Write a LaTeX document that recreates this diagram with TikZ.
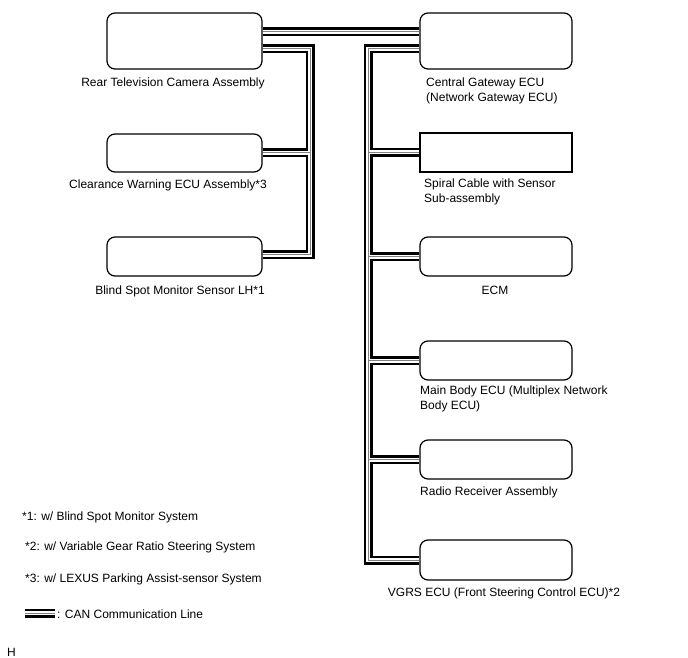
\documentclass[tikz,border=0pt]{standalone}
\usepackage{fontspec}
\setmainfont{Liberation Sans}
\usepackage{tikz}
\usetikzlibrary{positioning,backgrounds}

\begin{document}
\begin{tikzpicture}[x=1pt, y=-1pt,
    ecubox/.style={draw, line width=1.2pt, fill=white, rounded corners=8pt, inner sep=0pt},
    plainbox/.style={ecubox, sharp corners},
    lbl/.style={font=\fontsize{12}{15}\selectfont, inner sep=0pt, align=left}]
        \useasboundingbox (0,0) rectangle (688,658);

        % Left column (units on the left bus)
        \node[ecubox, minimum width=155pt, minimum height=56pt] (rearcam) at (184.5, 41) {};
        \node[ecubox, minimum width=155pt, minimum height=38pt] (clearance) at (184.5, 153) {};
        \node[ecubox, minimum width=155pt, minimum height=39pt] (blindspot) at (184.5, 256.5) {};

        % Right column (units on the right bus)
        \node[ecubox, minimum width=152pt, minimum height=56pt] (gateway) at (496, 41) {};
        \node[plainbox, minimum width=152pt, minimum height=39pt] (spiral) at (496, 152.5) {};
        \node[ecubox, minimum width=152pt, minimum height=39pt] (ecm) at (496, 256.5) {};
        \node[ecubox, minimum width=152pt, minimum height=39pt] (mainbody) at (496, 360.5) {};
        \node[ecubox, minimum width=152pt, minimum height=39pt] (radio) at (496, 459.5) {};
        \node[ecubox, minimum width=152pt, minimum height=40pt] (vgrs) at (496, 560) {};

        % Labels under the boxes (two-line labels sit on their last line)
        \node[lbl, anchor=base] (rearcamtext) at (173, 87) {Rear Television Camera Assembly};
        \node[lbl, anchor=base] (clearancetext) at (168, 188) {Clearance Warning ECU Assembly*3};
        \node[lbl, anchor=base] (blindspottext) at (180, 294) {Blind Spot Monitor Sensor LH*1};
        \node[lbl, anchor=base west] (gatewaytext) at (426, 102) {Central Gateway ECU\\(Network Gateway ECU)};
        \node[lbl, anchor=base west] (spiraltext) at (424, 202) {Spiral Cable with Sensor\\Sub-assembly};
        \node[lbl, anchor=base] (ecmtext) at (495, 294) {ECM};
        \node[lbl, anchor=base west] (mainbodytext) at (420, 409) {Main Body ECU (Multiplex Network\\Body ECU)};
        \node[lbl, anchor=base west] (radiotext) at (420, 495) {Radio Receiver Assembly};
        \node[lbl, anchor=base] (vgrstext) at (504, 596) {VGRS ECU (Front Steering Control ECU)*2};

        % Notes and legend
        \node[lbl, anchor=base west] (note1) at (22, 520) {*1: w/ Blind Spot Monitor System};
        \node[lbl, anchor=base west] (note2) at (25, 550) {*2: w/ Variable Gear Ratio Steering System};
        \node[lbl, anchor=base west] (note3) at (25, 582) {*3: w/ LEXUS Parking Assist-sensor System};
        \coordinate (legstart) at (25, 613);
        \coordinate (legend) at (55, 613);
        \node[lbl, anchor=base west] (legendtext) at (57, 618) {: CAN Communication Line};
        \node[lbl, anchor=base west] (figmark) at (7, 656) {H};

        % Bus corners
        \coordinate (lbus) at (310, 49);
        \coordinate (rbus) at (368, 49);

        % CAN lines: black, then white, then grey core
        \begin{scope}[on background layer]
        \foreach \lw/\lc in {9/black, 4/white, 1/gray}{
            \draw[line width=\lw pt, draw=\lc] ([yshift=9pt]rearcam.east) -- ([yshift=9pt]gateway.west);
            \draw[line width=\lw pt, draw=\lc] ([yshift=-8pt]rearcam.east) -| (lbus) |- ([yshift=2pt]blindspot.east);
            \draw[line width=\lw pt, draw=\lc] (clearance.east) -- (lbus |- clearance.east);
            \draw[line width=\lw pt, draw=\lc] ([yshift=-8pt]gateway.west) -| (rbus) |- (vgrs.west);
            \draw[line width=\lw pt, draw=\lc] (spiral.west) -- (rbus |- spiral.west);
            \draw[line width=\lw pt, draw=\lc] (ecm.west) -- (rbus |- ecm.west);
            \draw[line width=\lw pt, draw=\lc] (mainbody.west) -- (rbus |- mainbody.west);
            \draw[line width=\lw pt, draw=\lc] (radio.west) -- (rbus |- radio.west);
            \draw[line width=\lw pt, draw=\lc] (legstart) -- (legend);
        }
        \end{scope}
    \end{tikzpicture}
\end{document}
